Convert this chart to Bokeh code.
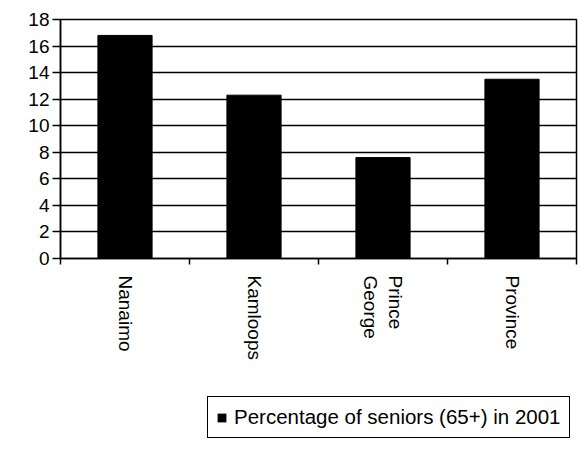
import math

from bokeh.embed import file_html
from bokeh.layouts import column
from bokeh.models import ColumnDataSource, FixedTicker, Legend, LegendItem
from bokeh.plotting import figure
from bokeh.resources import INLINE

# Share of the population aged 65 and over, 2001
places = ["Nanaimo", "Kamloops", "Prince\nGeorge", "Province"]
seniors_pct = [16.8, 12.3, 7.6, 13.5]
y_ticks = [0, 2, 4, 6, 8, 10, 12, 14, 16, 18]
series_name = "Percentage of seniors (65+) in 2001"

FONT = "Liberation Sans"

centers = [i + 0.5 for i in range(len(places))]
bounds = list(range(len(places) + 1))
src = ColumnDataSource(dict(x=centers, top=seniors_pct))

p = figure(
    width=579,
    height=380,
    x_range=(0, len(places)),
    y_range=(0, 18),
    output_backend="svg",
    toolbar_location=None,
    min_border_left=60,
    min_border_right=3,
    min_border_top=19,
    min_border_bottom=122,
)
p.background_fill_color = "white"
p.border_fill_color = "white"
p.outline_line_color = "black"
p.outline_line_width = 1.5

bars = p.vbar(x="x", top="top", bottom=0, width=0.42, source=src,
              fill_color="black", line_color="black", line_width=1)

# horizontal gridlines only
p.xgrid.visible = False
p.ygrid.ticker = FixedTicker(ticks=y_ticks)
p.ygrid.grid_line_color = "black"
p.ygrid.grid_line_width = 1.5

# y axis
ya = p.yaxis[0]
ya.ticker = FixedTicker(ticks=y_ticks)
ya.axis_line_width = 1.5
ya.major_tick_line_width = 1.5
ya.major_tick_out = 8
ya.major_tick_in = 0
ya.minor_tick_line_color = None
ya.major_label_standoff = 3
ya.major_label_text_font = FONT
ya.major_label_text_font_size = "19px"
ya.major_label_text_color = "black"

# x axis: names at category centres, tick marks between categories
xa = p.xaxis[0]
xa.ticker = FixedTicker(ticks=centers, minor_ticks=bounds)
xa.axis_line_width = 1.5
xa.major_tick_out = 0
xa.major_tick_in = 0
xa.minor_tick_out = 6
xa.minor_tick_in = 0
xa.minor_tick_line_color = "black"
xa.minor_tick_line_width = 1.5
xa.major_label_overrides = {c: name for c, name in zip(centers, places)}
xa.major_label_orientation = -math.pi / 2
xa.major_label_standoff = 11
xa.major_label_text_font = FONT
xa.major_label_text_font_size = "19px"
xa.major_label_text_color = "black"

# strip underneath holding the legend box; the same bars are bound to it
# but lie far below its visible range, so only the swatch shows
key = figure(
    width=579,
    height=76,
    x_range=(0, len(places)),
    y_range=(1000, 1001),
    x_axis_type=None,
    y_axis_type=None,
    output_backend="svg",
    toolbar_location=None,
    min_border=0,
)
key.outline_line_color = None
key.grid.visible = False
key.background_fill_color = "white"
key.border_fill_color = "white"
swatch = key.vbar(x="x", top="top", bottom=0, width=0.42, source=src,
                  fill_color="black", line_color=None)

legend = Legend(
    items=[LegendItem(label=series_name, renderers=[swatch])],
    location=(147, 18),
    orientation="horizontal",
    border_line_color="black",
    border_line_alpha=1,
    border_line_width=1,
    background_fill_color="white",
    background_fill_alpha=1,
    padding=8,
    margin=0,
    spacing=0,
    glyph_width=11,
    glyph_height=11,
    label_standoff=7,
    label_text_font=FONT,
    label_text_font_size="20.5px",
    label_text_color="black",
)
key.add_layout(legend, "center")

page = column(p, key, spacing=0)
open("out.html", "w").write(file_html(page, INLINE))
